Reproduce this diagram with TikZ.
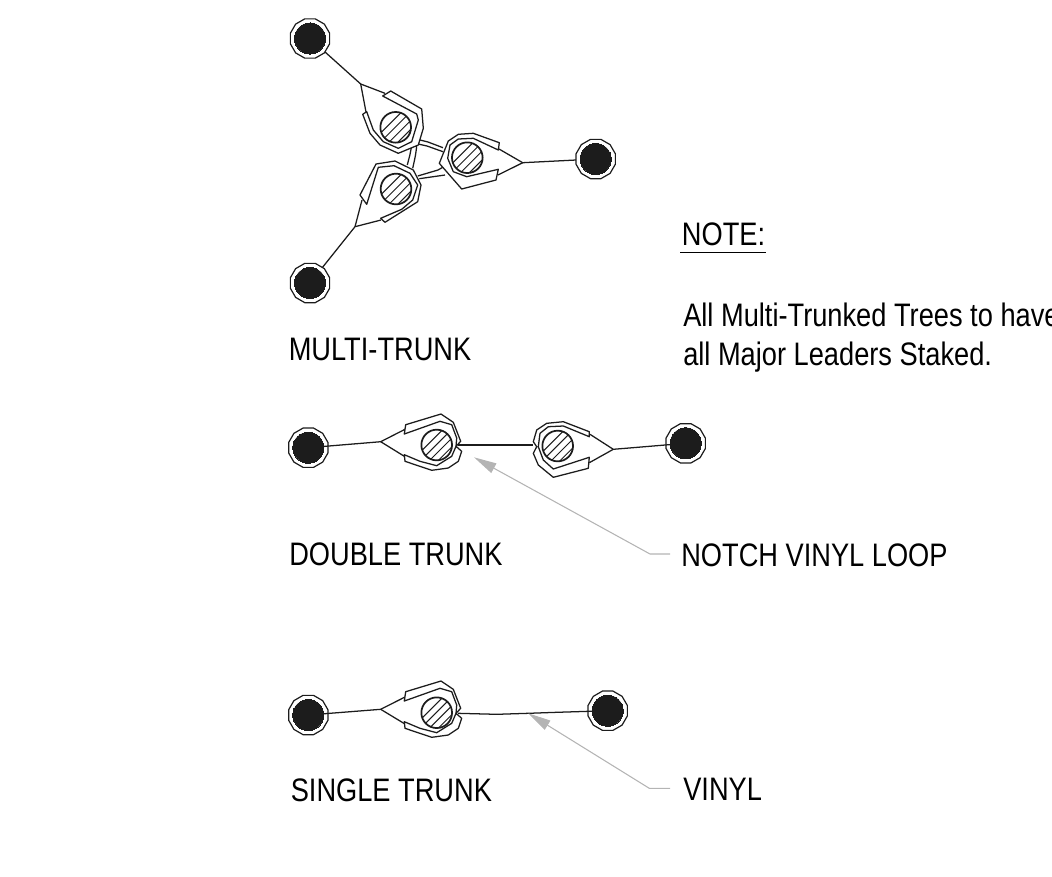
\documentclass[tikz,border=0pt]{standalone}
\usepackage{fontspec}
\setmainfont[FakeStretch=0.837]{Liberation Sans}
\usetikzlibrary{arrows.meta,shapes.geometric}
\definecolor{ink}{HTML}{1C1C1C}
\definecolor{leader}{HTML}{B4B4B4}
\tikzset{
  ln/.style={draw=ink,line width=0.95pt,line join=round},
  staked/.style={ln,fill=white},
  core/.style={circle,draw=ink,fill=ink,line width=0,inner sep=0pt,minimum size=23.3pt},
  ring/.style={regular polygon,regular polygon sides=12,draw=ink,fill=white,line width=0.9pt,inner sep=0pt,minimum size=30.5pt},
  trunk/.style={circle,draw=ink,line width=1.3pt,inner sep=0pt,minimum size=23pt,path picture={
    \foreach \d in {-21,-14.4,...,21}{\draw[ink,line width=0.75pt]
      ([xshift=\d pt,yshift=-14pt]path picture bounding box.center)--++(28pt,28pt);}}},
  lbl/.style={font=\fontsize{24.4}{28}\selectfont,text=black,anchor=base west,inner sep=0pt},
  leaderline/.style={draw=leader,line width=0.8pt},
  leadertip/.style={leaderline,-{Triangle[length=17pt,width=8pt,fill=leader]}}
}
\newcommand{\stakeat}[3]{\node[ring] at (#2,#3) {};\node[core] (#1) at (#2,#3) {};}
\newcommand{\notchedloop}{\draw[staked] (405.7,691.7) -- (441,681) -- (453.3,689.3) -- (460.7,708.3) -- (456,713.3) -- (461.7,718.3) -- (458.3,728.3) -- (448.3,735) -- (431.7,737.3) -- (405,728.3) -- (404.3,721.7) -- (420,728.3) -- (436.7,732.7) -- (451.7,723.3) -- (456,713.3) -- (456.7,705) -- (451.7,691.7) -- (440,688.3) -- (404.3,701) -- cycle;}
\begin{document}
\begin{tikzpicture}[x=0.75pt,y=-0.75pt]
\useasboundingbox (0,0) rectangle (1052,876);
\clip (0,0) rectangle (1052,876);
% ---------- MULTI-TRUNK
\coordinate (aa) at (360.7,84);
\coordinate (ab) at (522.7,162.7);
\coordinate (ac) at (355,226.7);
\coordinate (sap) at (310,38.5);
\coordinate (sbp) at (595.7,159);
\coordinate (scp) at (310,283);
\draw[ln] (sap) -- (aa) -- (385,93.3);
\draw[ln] (aa) -- (366,112);
\draw[ln] (sbp) -- (ab) -- (499,149);
\draw[ln] (ab) -- (498,175);
\draw[ln] (scp) -- (ac) -- (381,220);
\draw[ln] (ac) -- (362,200);
\stakeat{sa}{310}{38.5}
\stakeat{sb}{595.7}{159}
\stakeat{sc}{310}{283}
% bands between the trunks
\draw[ln] (420,140) -- (428,142) -- (443,147.7);
\draw[ln] (418,144) -- (427,146) -- (443,151.7);
\draw[ln] (416.7,145) .. controls (416,155) and (414,162) .. (412.7,168.3);
\draw[ln] (411.7,144) .. controls (411,152) and (409,158) .. (407.3,165);
\draw[ln] (417.7,176) -- (438,170) -- (445,166);
\draw[ln] (419.3,178.7) -- (445,175);
% vinyl loops
\draw[staked] (382.7,96) -- (390.7,91) -- (421.7,109) -- (423.3,128.3) -- (418.3,145) -- (398.3,153.3) -- (380,145) -- (370,133.3) -- (362.7,114.3) -- (366.7,111.7) -- (373.3,130) -- (383.3,141.7) -- (398.3,148.3) -- (411.7,141.7) -- (418.3,120) -- (416.7,114) -- cycle;
\draw[staked] (499.3,142.7) -- (473.3,133.3) -- (458.3,134.3) -- (448.3,141) -- (439.3,163.3) -- (461.7,189) -- (496,180) -- (498.3,169.3) -- (466.7,176.7) -- (453.3,171.7) -- (447.7,158.3) -- (450,145) -- (458.3,139) -- (473.3,138.3) -- (498.3,150) -- cycle;
\draw[staked] (360,195) -- (376,164) -- (395,161) -- (413.3,170) -- (421,185) -- (417.7,201.7) -- (385,222.3) -- (380.7,218.3) -- (401.7,209.3) -- (412.7,200) -- (417.7,185) -- (410,173.3) -- (394,165.7) -- (378.3,167.3) -- (366.7,204.3) -- cycle;
\node[trunk] (ta) at (395.7,127.3) {};
\node[trunk] (tb) at (467.3,157.7) {};
\node[trunk] (tc) at (396,189) {};
% ---------- DOUBLE TRUNK
\stakeat{da}{308.3}{447.7}
\stakeat{db}{685.7}{443.3}
\coordinate (dl) at (380.7,441.7);
\coordinate (dr) at (613.3,449.3);
\draw[ln] (da) -- (dl) -- (405,429.3);
\draw[ln] (dl) -- (405,456.7);
\draw[ln] (db) -- (dr) -- (590,434.3);
\draw[ln] (dr) -- (589.3,462.7);
\draw[ln] (457.7,445) -- (533.3,445);
\begin{scope}[yshift=200.25pt]
\notchedloop
\end{scope}
\draw[staked] (589.3,431.7) -- (563.3,421.7) -- (546.7,423.3) -- (536.7,430) -- (533.3,441.7) -- (536.7,446.7) -- (533.3,453.3) -- (538.3,465) -- (553.3,477.3) -- (588.3,468.3) -- (589.3,457.3) -- (553.3,469) -- (543.3,460) -- (538.3,446.7) -- (540,433.3) -- (548.3,426.7) -- (563.3,426) -- (589.3,436.7) -- cycle;
\node[trunk] (td) at (436.7,445) {};
\node[trunk] (te) at (557.7,446) {};
% ---------- SINGLE TRUNK
\stakeat{ea}{308.3}{715}
\stakeat{eb}{607.7}{710.7}
\coordinate (el) at (380.7,709.3);
\draw[ln] (ea) -- (el) -- (405,697);
\draw[ln] (el) -- (405,724);
\coordinate (em) at (528.3,713.3);
\draw[ln] (458,713.3) -- (496.7,714.3) -- (em) -- (556.7,712.3) -- (eb);
\notchedloop
\node[trunk] (tf) at (436.7,712.7) {};
% ---------- leaders
\coordinate (la) at (474,457.3);
\coordinate (lb) at (650,554);
\coordinate (lc) at (670,554);
\draw[leadertip] (lc) -- (lb) -- (la);
\coordinate (ld) at (528.3,713.3);
\coordinate (le) at (649.3,788.3);
\coordinate (lf) at (670,788.3);
\draw[leadertip] (lf) -- (le) -- (ld);
% ---------- text
\node[lbl] (t1) at (288.5,360.7) {MULTI-TRUNK};
\node[lbl] (t2) at (289,565.7) {DOUBLE TRUNK};
\node[lbl] (t3) at (681,566) {NOTCH VINYL LOOP};
\node[lbl] (t4) at (290.5,801) {SINGLE TRUNK};
\node[lbl] (t5) at (683,800.7) {VINYL};
\node[lbl] (t6) at (681.7,245.7) {NOTE:};
\draw[draw=black,line width=0.8pt] (680,252.7) -- (766,252.7);
\node[lbl] (t7) at (683,326) {All Multi-Trunked Trees to have};
\node[lbl] (t8) at (683,365) {all Major Leaders Staked.};
\end{tikzpicture}
\end{document}
